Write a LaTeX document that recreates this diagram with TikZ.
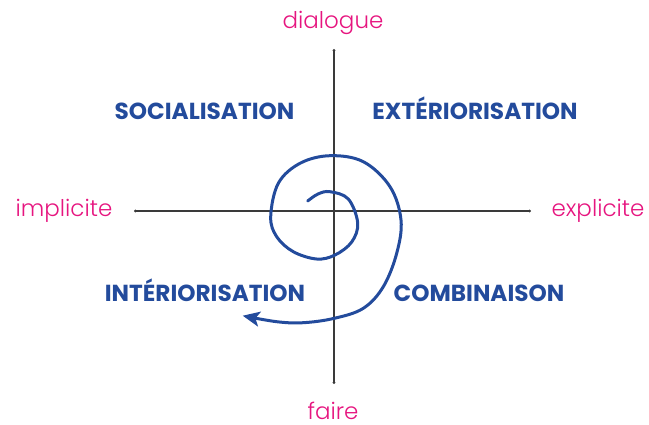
\documentclass[tikz,border=0pt]{standalone}
\usepackage{fontspec}
\setmainfont{Poppins}
\newfontfamily\boldlbl{Poppins}[UprightFont={* Bold}]
\newfontfamily\lightlbl{Poppins}[UprightFont={* Light}]
\usetikzlibrary{arrows.meta}
\definecolor{kblue}{HTML}{234B9C}
\definecolor{kpink}{HTML}{E6157F}
\definecolor{kaxis}{HTML}{3A3A3A}
\tikzset{
  quad/.style={text=kblue, font=\boldlbl\fontsize{23.2}{27}\selectfont, inner sep=0pt, anchor=base},
  pole/.style={text=kpink, font=\lightlbl\fontsize{23}{27}\selectfont, inner sep=0pt, anchor=base},
  axisline/.style={draw=kaxis, line width=1.1pt, {Circle[length=2.6pt]}-{Circle[length=2.6pt]}},
  spiral/.style={draw=kblue, line width=3pt, line cap=round, -{Stealth[length=17pt, width=15pt, inset=4pt]}}
}
\begin{document}
\begin{tikzpicture}[x=1pt, y=-1pt]
\useasboundingbox (0,0) rectangle (649,424);
% axes
\coordinate (top) at (334,49);
\coordinate (bot) at (334,384);
\coordinate (lft) at (134,211);
\coordinate (rgt) at (531,211);
\draw[axisline] (top) -- (bot);
\draw[axisline] (lft) -- (rgt);
% pole labels
\node[pole] (dialogue) at (333,28.3) {dialogue};
\node[pole] (faire) at (333,419.5) {faire};
\node[pole] (implicite) at (64,216.7) {implicite};
\node[pole] (explicite) at (598,216.7) {explicite};
% quadrant labels
\node[quad] (soc) at (204.5,119.3) {SOCIALISATION};
\node[quad] (ext) at (475,119.3) {EXTÉRIORISATION};
\node[quad] (int) at (205,301.7) {INTÉRIORISATION};
\node[quad] (comb) at (479,301.7) {COMBINAISON};
% spiral
\coordinate (sstart) at (307.7,201);
\coordinate (send) at (242.7,315.7);
\draw[spiral] plot[smooth, tension=0.6] coordinates {
 (sstart) (318,194) (330,191.7) (348.3,199) (357.7,223) (351.7,242)
 (335,255) (316.7,259) (293.3,251.7) (276.7,236.7) (270.7,216.7)
 (278.3,183.3) (300,163.3) (330,155.7) (363.3,161.7) (390,186.7)
 (401,220) (396.7,253.3) (383.3,286.7) (363.3,308.3) (334.3,318.3)
 (303.3,322.7) (276.7,321.7) (send)};
\end{tikzpicture}
\end{document}
